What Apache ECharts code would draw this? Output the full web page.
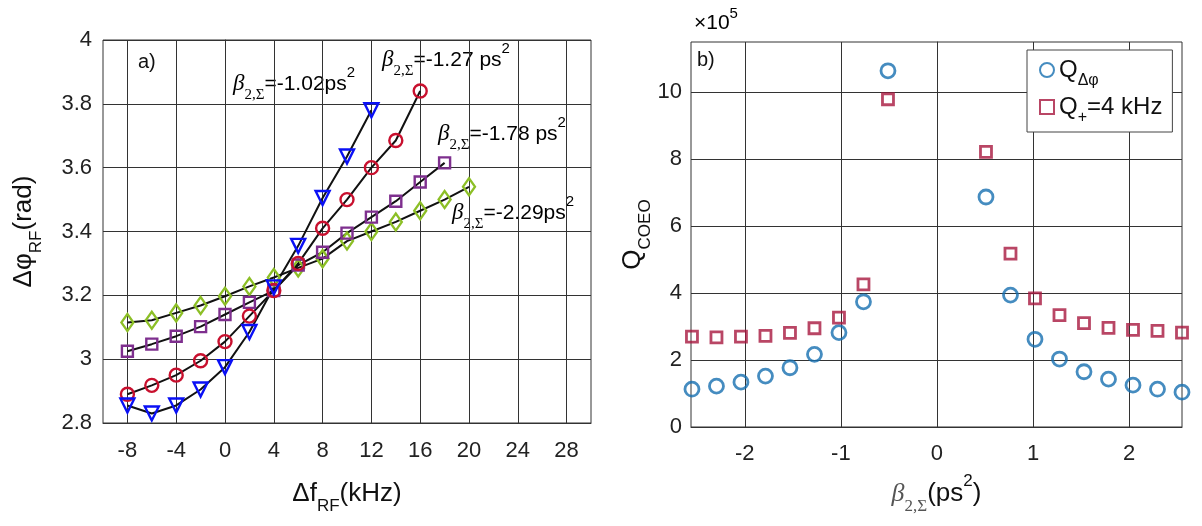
<!DOCTYPE html>
<html>
<head>
<meta charset="utf-8">
<script src="https://cdn.jsdelivr.net/npm/echarts@6/dist/echarts.min.js"></script>
<style>
  html, body { margin: 0; padding: 0; background: #fff; }
  #chart { width: 1202px; height: 526px; }
</style>
</head>
<body>
<div id="chart"></div>
<script>
// panel a) : phase vs RF detuning
const dfRF = [-8, -6, -4, -2, 0, 2, 4, 6, 8, 10, 12, 14, 16, 18, 20]
const phi102 = [2.855, 2.83, 2.855, 2.905, 2.975, 3.085, 3.225, 3.355, 3.505, 3.635, 3.78]
const phi127 = [2.89, 2.918, 2.95, 2.995, 3.055, 3.135, 3.215, 3.30, 3.41, 3.50, 3.60, 3.685, 3.84]
const phi178 = [3.025, 3.047, 3.072, 3.102, 3.14, 3.178, 3.215, 3.295, 3.335, 3.395, 3.445, 3.495, 3.555, 3.615]
const phi229 = [3.115, 3.122, 3.145, 3.168, 3.197, 3.228, 3.256, 3.286, 3.315, 3.37, 3.40, 3.43, 3.465, 3.50, 3.54]
const xTicksA = [-8, -4, 0, 4, 8, 12, 16, 20, 24, 28]
const yTicksA = [2.8, 3, 3.2, 3.4, 3.6, 3.8, 4]

// panel b) : Q factor vs net dispersion (x 1e5)
const beta = [-2.55, -2.295, -2.04, -1.785, -1.53, -1.275, -1.02, -0.765, -0.51,
  0.51, 0.765, 1.02, 1.275, 1.53, 1.785, 2.04, 2.295, 2.55]
const qPhi = [1.13, 1.22, 1.34, 1.52, 1.77, 2.17, 2.82, 3.74, 10.64,
  6.87, 3.94, 2.62, 2.03, 1.65, 1.43, 1.25, 1.13, 1.04]
const qPlus = [2.70, 2.68, 2.70, 2.72, 2.81, 2.95, 3.27, 4.26, 9.79,
  8.22, 5.18, 3.84, 3.34, 3.10, 2.96, 2.90, 2.87, 2.82]
const xTicksB = [-2, -1, 0, 1, 2]
const yTicksB = [0, 2, 4, 6, 8, 10]

const font = 'Liberation Sans, Arial, sans-serif'
const serif = 'Liberation Serif, DejaVu Serif, serif'
const gridColor = '#333'

const pair = (xs, ys) => ys.map((v, i) => [xs[i], v])

// 下标/上标样式
const richSub = {
  m: { fontFamily: font, fontSize: 26, color: '#111', lineHeight: 26, verticalAlign: 'middle' },
  s: { fontFamily: font, fontSize: 17, color: '#111', lineHeight: 17, verticalAlign: 'bottom' },
  b: { fontFamily: serif, fontStyle: 'italic', fontSize: 26, color: '#555', lineHeight: 26, verticalAlign: 'middle' },
  bs: { fontFamily: serif, fontSize: 17, color: '#555', lineHeight: 17, verticalAlign: 'bottom' },
  p: { fontFamily: font, fontSize: 17, color: '#111', lineHeight: 17, verticalAlign: 'top' },
  gap: { lineHeight: 42, fontSize: 1, width: 0 }
}
const richNote = {
  b: { fontFamily: serif, fontStyle: 'italic', fontSize: 23, color: '#555', lineHeight: 24, verticalAlign: 'middle' },
  bs: { fontFamily: serif, fontSize: 15, color: '#555', lineHeight: 15, verticalAlign: 'bottom' },
  m: { fontFamily: font, fontSize: 21, color: '#111', lineHeight: 24, verticalAlign: 'middle' },
  p: { fontFamily: font, fontSize: 15, color: '#111', lineHeight: 15, verticalAlign: 'top' },
  gap: { lineHeight: 38, fontSize: 1, width: 0 }
}

const note = (x, y, val) => ({
  type: 'text', left: x, top: y,
  style: { text: '{gap|}{b|β}{bs|2,Σ}{m|=' + val + '}{p|2}', rich: richNote }
})

const lineSeries = (data, symbol, size, color, rotate) => ({
  type: 'line', xAxisIndex: 0, yAxisIndex: 0,
  data: pair(dfRF, data),
  symbol: symbol, symbolSize: size, symbolRotate: rotate || 0,
  lineStyle: { color: '#111', width: 2 },
  itemStyle: { color: 'rgba(0,0,0,0)', borderColor: color, borderWidth: 2.4 },
  z: 3
})

const chart = echarts.init(document.getElementById('chart'))

const axisCommon = {
  axisLine: { show: true, lineStyle: { color: gridColor, width: 1 } },
  axisTick: { show: true, inside: true, length: 5, lineStyle: { color: gridColor } },
  splitLine: { show: true, lineStyle: { color: gridColor, width: 1 } },
  axisLabel: { fontFamily: font, fontSize: 22, color: '#222' }
}

const option = {
  backgroundColor: '#fff',
  animation: false,
  grid: [
    { left: 103, top: 40, width: 488, height: 383, show: true, borderColor: gridColor, borderWidth: 1 },
    { left: 691, top: 42, width: 491, height: 385, show: true, borderColor: gridColor, borderWidth: 1 }
  ],
  xAxis: [
    {
      gridIndex: 0, type: 'value', min: -10, max: 30,
      ...axisCommon,
      axisTick: { ...axisCommon.axisTick, customValues: xTicksA },
      axisLabel: { ...axisCommon.axisLabel, customValues: xTicksA, margin: 17 },
      name: '{gap|}{m|Δf}{s|RF}{m|(kHz)}', nameLocation: 'middle', nameGap: 50,
      nameTextStyle: { rich: richSub }
    },
    {
      gridIndex: 1, type: 'value', min: -2.56, max: 2.55,
      ...axisCommon,
      axisTick: { ...axisCommon.axisTick, customValues: xTicksB },
      axisLabel: { ...axisCommon.axisLabel, customValues: xTicksB, margin: 16 },
      name: '{gap|}{b|β}{bs|2,Σ}{m|(ps}{p|2}{m|)}', nameLocation: 'middle', nameGap: 46,
      nameTextStyle: { rich: richSub }
    }
  ],
  yAxis: [
    {
      gridIndex: 0, type: 'value', min: 2.8, max: 4,
      ...axisCommon,
      axisTick: { ...axisCommon.axisTick, customValues: yTicksA },
      axisLabel: { ...axisCommon.axisLabel, customValues: yTicksA, margin: 11 },
      name: '{gap|}{m|Δφ}{s|RF}{m|(rad)}', nameLocation: 'middle', nameGap: 58, nameRotate: 90,
      nameTextStyle: { rich: richSub }
    },
    {
      gridIndex: 1, type: 'value', min: 0, max: 11.5,
      ...axisCommon,
      axisTick: { ...axisCommon.axisTick, customValues: yTicksB },
      axisLabel: { ...axisCommon.axisLabel, customValues: yTicksB, margin: 9 },
      name: '{gap|}{m|Q}{s|COEO}', nameLocation: 'middle', nameGap: 30, nameRotate: 90,
      nameTextStyle: { rich: richSub }
    }
  ],
  legend: {
    data: ['QΔφ', 'Q+'],
    orient: 'vertical', left: 1027, top: 50,
    backgroundColor: '#fff', borderColor: '#444', borderWidth: 1,
    padding: [8, 10, 6, 12], itemGap: 6, itemWidth: 14, itemHeight: 14,
    formatter: function (name) {
      return name === 'QΔφ' ? '{gap|}{m|Q}{s|Δφ}' : '{gap|}{m|Q}{s|+}{m|=4 kHz}'
    },
    textStyle: {
      rich: {
        m: { fontFamily: font, fontSize: 24, color: '#111', lineHeight: 25, verticalAlign: 'middle' },
        s: { fontFamily: font, fontSize: 16, color: '#111', lineHeight: 16, verticalAlign: 'bottom' },
        gap: { lineHeight: 38, fontSize: 1, width: 0 }
      }
    }
  },
  graphic: [
    { type: 'text', left: 138, top: 52, style: { text: 'a)', font: '20px Liberation Sans', fill: '#111' } },
    { type: 'text', left: 697, top: 50, style: { text: 'b)', font: '20px Liberation Sans', fill: '#111' } },
    {
      type: 'text', left: 694, top: 6,
      style: {
        text: '{gap|}{m|×10}{p|5}',
        rich: {
          m: { fontFamily: font, fontSize: 21, color: '#222', lineHeight: 22, verticalAlign: 'middle' },
          p: { fontFamily: font, fontSize: 15, color: '#222', lineHeight: 15, verticalAlign: 'top' },
          gap: { lineHeight: 34, fontSize: 1, width: 0 }
        }
      }
    },
    note(233, 65, '-1.02ps'),
    note(382, 41, '-1.27 ps'),
    note(438, 115, '-1.78 ps'),
    note(452, 194, '-2.29ps')
  ],
  series: [
    lineSeries(phi229, 'diamond', [12, 17], '#8cbf26'),
    lineSeries(phi178, 'rect', 11, '#7e2f8e'),
    lineSeries(phi127, 'circle', 13, '#c8102e'),
    lineSeries(phi102, 'triangle', 14, '#0a10f5', 180),
    {
      name: 'QΔφ', type: 'scatter', xAxisIndex: 1, yAxisIndex: 1,
      data: pair(beta, qPhi),
      symbol: 'circle', symbolSize: 14,
      itemStyle: { color: 'rgba(0,0,0,0)', borderColor: '#166fb0', borderWidth: 2.8 }
    },
    {
      name: 'Q+', type: 'scatter', xAxisIndex: 1, yAxisIndex: 1,
      data: pair(beta, qPlus),
      symbol: 'rect', symbolSize: 11,
      itemStyle: { color: 'rgba(0,0,0,0)', borderColor: '#a8183f', borderWidth: 2.8 }
    }
  ]
}

chart.setOption(option)
</script>
</body>
</html>
